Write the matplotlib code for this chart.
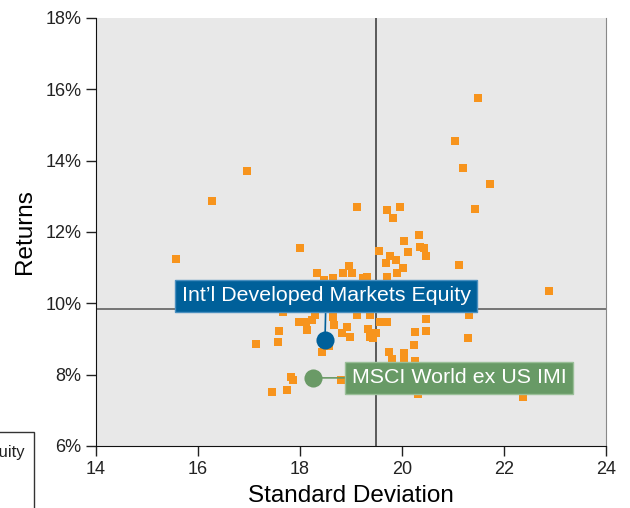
import matplotlib
matplotlib.use("Agg")
import matplotlib.pyplot as plt
from matplotlib.patches import Rectangle

plt.rcParams['font.family'] = ['Liberation Sans', 'DejaVu Sans']

# Peer funds: standard deviation (%) and returns (%)
peer_sd = [15.57, 16.27, 16.96, 18.00, 19.12, 19.71, 19.96, 19.82, 21.49, 21.04,
           21.20, 21.73, 21.43, 20.33, 20.04, 19.55, 20.12, 20.35, 20.43, 20.47,
           19.76, 19.88, 19.69, 20.02, 19.90, 21.12, 22.88, 19.71, 19.24, 18.33,
           18.47, 18.65, 18.84, 18.96, 19.02, 19.31, 17.67, 17.98, 18.12, 18.24,
           18.29, 18.14, 17.59, 17.57, 17.14, 18.43, 18.57, 18.65, 18.67, 18.82,
           18.92, 18.98, 19.12, 19.33, 19.37, 19.49, 19.37, 19.57, 19.71, 17.82,
           17.86, 17.45, 17.75, 18.80, 21.31, 20.47, 20.47, 20.25, 21.29, 20.24,
           19.75, 19.80, 20.04, 20.04, 20.25, 20.31, 22.37, 19.43, 18.39, 18.88,
           19.18, 19.76, 19.96, 19.27, 18.00, 20.10, 19.86, 20.55, 19.41]
peer_ret = [11.24, 12.87, 13.71, 11.55, 12.70, 12.62, 12.70, 12.39, 15.76, 14.55,
            13.79, 13.35, 12.65, 11.92, 11.75, 11.47, 11.44, 11.58, 11.55, 11.33,
            11.33, 11.22, 11.13, 10.99, 10.85, 11.08, 10.35, 10.74, 10.71, 10.85,
            10.65, 10.71, 10.85, 11.05, 10.85, 10.74, 9.76, 9.48, 9.48, 9.53,
            9.67, 9.25, 9.22, 8.92, 8.86, 8.64, 8.80, 9.62, 9.39, 9.17,
            9.34, 9.06, 9.67, 9.28, 9.06, 9.17, 9.67, 9.48, 9.48, 7.94,
            7.85, 7.52, 7.57, 7.85, 9.67, 9.56, 9.22, 9.20, 9.03, 8.83,
            8.64, 8.44, 8.61, 8.47, 8.38, 7.46, 7.37, 9.03, 10.23, 10.37,
            10.09, 10.37, 10.09, 10.43, 10.04, 9.84, 8.08, 7.85, 7.71]

# Highlighted series
fund_name = "Int\u2019l Developed Markets Equity"
fund_sd, fund_ret = 18.49, 8.97
index_name = "MSCI World ex US IMI"
index_sd, index_ret = 18.25, 7.91

# Reference (median) lines
median_sd = 19.49
median_ret = 9.84

x_ticks = [14, 16, 18, 20, 22, 24]
y_ticks = [6, 8, 10, 12, 14, 16, 18]
y_tick_labels = ["6%", "8%", "10%", "12%", "14%", "16%", "18%"]

fig = plt.figure(figsize=(6.3, 5.08), dpi=100)
ax = fig.add_axes([96/630, 1-446/508, 510/630, 428/508])
ax.set_facecolor('#E8E8E8')

ax.axvline(median_sd, color='#333333', lw=1.1, zorder=1)
ax.axhline(median_ret, color='#555555', lw=1.1, zorder=1)

ax.scatter(peer_sd, peer_ret, marker='s', s=30, color='#F7941D', linewidths=0, zorder=2)

ax.scatter([fund_sd], [fund_ret], s=170, color='#00609A', zorder=4, linewidths=0)
ax.scatter([index_sd], [index_ret], s=170, color='#6A9A66', zorder=4, linewidths=0)

ax.annotate(fund_name, xy=(fund_sd, fund_ret), xytext=(18.51, 10.21),
            ha='center', va='center', fontsize=15.4, color='white', zorder=5,
            bbox=dict(boxstyle='square,pad=0.3', fc='#00609A', ec='#4A8FBF', lw=1),
            arrowprops=dict(arrowstyle='-', color='#00609A', lw=1.2, shrinkA=0, shrinkB=0))
ax.annotate(index_name, xy=(index_sd, index_ret), xytext=(21.12, 7.91),
            ha='center', va='center', fontsize=15.4, color='white', zorder=5,
            bbox=dict(boxstyle='square,pad=0.3', fc='#689A66', ec='#9ABF98', lw=1),
            arrowprops=dict(arrowstyle='-', color='#6A9A66', lw=1.2, shrinkA=0, shrinkB=0))

ax.set_xlim(14, 24)
ax.set_ylim(6, 18)
ax.set_xticks(x_ticks)
ax.set_yticks(y_ticks)
ax.set_yticklabels(y_tick_labels)
ax.tick_params(direction='out', length=7, width=1, labelsize=13, colors='#222222')
ax.tick_params(axis='x', pad=4)
ax.spines['top'].set_visible(False)
ax.spines['right'].set_color('#888888')
ax.spines['left'].set_color('#111111')
ax.spines['bottom'].set_color('#111111')
ax.set_xlabel("Standard Deviation", fontsize=17.5, labelpad=5)
ax.set_ylabel("Returns", fontsize=17.5, labelpad=7)

# Partially visible legend box at lower left (cut off by the figure edge, as in the source)
fig.patches.append(Rectangle((-100/630, -10/508), 134/630, (508-432+10)/508,
                             transform=fig.transFigure, fc='white', ec='#333333', lw=1))
fig.text(25/630, 1-452/508, "Equity", ha='right', va='center', fontsize=12, color='#222222')

fig.savefig("out.png", dpi=100)
